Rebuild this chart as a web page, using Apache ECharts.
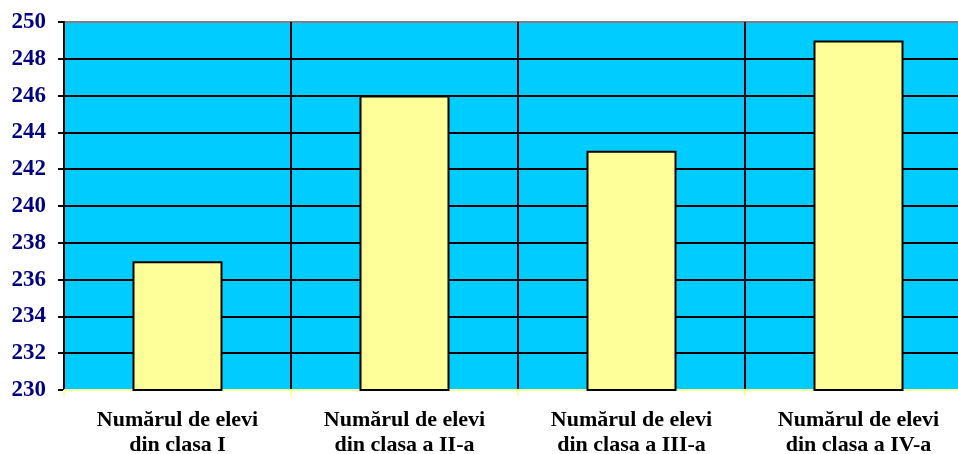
<!DOCTYPE html>
<html>
<head>
<meta charset="utf-8">
<script src="https://cdn.jsdelivr.net/npm/echarts@6/dist/echarts.min.js"></script>
<style>html,body{margin:0;padding:0;background:#fff;}#c{width:958px;height:454px;}</style>
</head>
<body>
<div id="c"></div>
<script>
var categories = ['Numărul de elevi\ndin clasa I', 'Numărul de elevi\ndin clasa a II-a', 'Numărul de elevi\ndin clasa a III-a', 'Numărul de elevi\ndin clasa a IV-a'];
var values = [237, 246, 243, 249];
var yMin = 230, yMax = 250, yStep = 2;

var chart = echarts.init(document.getElementById('c'));
chart.setOption({
  animation: false,
  backgroundColor: '#ffffff',
  grid: {
    left: 64, top: 22, width: 908, height: 368,
    outerBoundsMode: 'none', containLabel: false,
    show: true, backgroundColor: '#00CCFF', borderColor: '#808080', borderWidth: 2
  },
  xAxis: {
    type: 'category',
    data: categories,
    axisLine: { show: true, lineStyle: { color: '#FFFF99', width: 2 } },
    axisTick: { show: true, length: 6, lineStyle: { color: '#FFFF99', width: 2 } },
    splitLine: { show: true, lineStyle: { color: '#000', width: 2 } },
    axisLabel: {
      margin: 18, color: '#000', fontFamily: 'Liberation Serif', fontWeight: 'bold',
      fontSize: 22, lineHeight: 25, interval: 0
    }
  },
  yAxis: {
    type: 'value', min: yMin, max: yMax, interval: yStep,
    axisLine: { show: true, lineStyle: { color: '#000', width: 2 } },
    axisTick: { show: true, length: 6, lineStyle: { color: '#000', width: 2 } },
    splitLine: { show: true, showMinLine: false, showMaxLine: false, lineStyle: { color: '#000', width: 2 } },
    axisLabel: {
      margin: 18, color: '#000080', fontFamily: 'Liberation Serif', fontWeight: 'bold', fontSize: 23
    }
  },
  series: [{
    type: 'bar',
    data: values,
    barWidth: 90,
    itemStyle: { color: '#FFFF99', borderColor: '#000', borderWidth: 2 }
  }]
});
</script>
</body>
</html>
